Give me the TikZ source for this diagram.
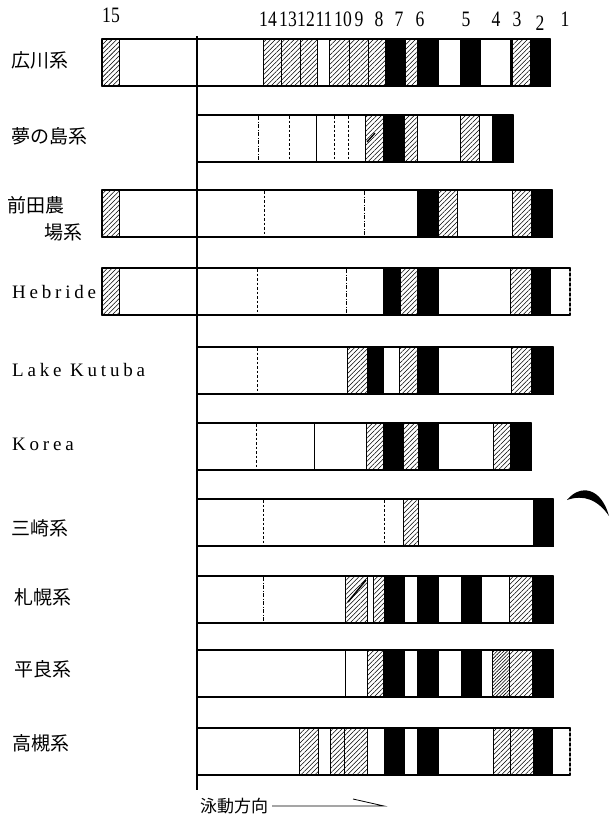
\documentclass[tikz,border=0pt]{standalone}
\usepackage{fontspec}
\setmainfont{Liberation Serif}
\newfontfamily\jpf{Noto Sans CJK JP}
\newfontfamily\latf[LetterSpace=20]{Liberation Serif}
\newfontfamily\numf[FakeStretch=0.8]{Liberation Serif}
\usetikzlibrary{patterns.meta}
\tikzset{
  W/.style={fill=white, draw=black, line width=0.8pt},
  Wn/.style={fill=white},
  H/.style={pattern={Lines[angle=45,distance=3.3pt,line width=0.55pt]}, draw=black, line width=0.8pt},
  Hd/.style={pattern={Lines[angle=45,distance=2.4pt,line width=0.6pt]}, draw=black, line width=0.8pt},
  B/.style={fill=black, draw=black, line width=0.8pt},
  dl/.style={dash pattern=on 2.5pt off 2pt, line width=0.7pt},
  dd/.style={dash pattern=on 4pt off 1.5pt on 1pt off 1.5pt, line width=0.7pt},
  sl/.style={line width=0.8pt},
  frame/.style={line width=1.6pt, line cap=round},
  jl/.style={font=\jpf\fontsize{19}{21}\selectfont, inner sep=0pt, anchor=west},
  ll/.style={font=\latf\fontsize{19}{21}\selectfont, inner sep=0pt, anchor=west},
  nl/.style={font=\numf\fontsize{22}{24}\selectfont, inner sep=0pt},
}
\newcommand\stripe[2]{\foreach \a/\b/\s in {#2}{\path[\s] (\a,#1) rectangle (\b,#1+47);}}
\newcommand\inln[3]{\draw[#3] (#2,#1+1) -- (#2,#1+46);}
\newcommand\frm[4]{%
  \draw[frame] (#2,#1) -- (#3,#1);
  \draw[frame] (#2,#1+47) -- (#3,#1+47);
  \draw[frame] (#2,#1) -- (#2,#1+47);
  \draw[frame,#4] (#3,#1) -- (#3,#1+47);}
\begin{document}
\begin{tikzpicture}[x=1pt,y=-1pt]
\useasboundingbox[fill=white] (0,0) rectangle (615,819);

% row 1 広川系
\stripe{39}{102/119/H,119/263/W,263/281/H,281/300/H,300/317/H,317/329/W,329/349/H,349/368/H,368/385/H,385/405/B,405/417/H,417/438/B,438/460/W,460/480/B,480/510/W,510/512/B,512/530/H,530/550/B}
\frm{39}{102}{550}{}

% row 2 夢の島系
\stripe{115}{197/365/W,365/383/H,383/404/B,404/417/H,417/460/W,460/479/H,479/492/W,492/513/B}
\inln{115}{258}{dd}\inln{115}{289}{dl}\inln{115}{316}{sl}\inln{115}{334}{dl}\inln{115}{348}{dl}
\draw[line width=1.3pt] (367,142) -- (375,133);
\frm{115}{197}{513}{}

% row 3 前田農場系
\stripe{190}{102/119/H,119/417/W,417/438/B,438/457/H,457/512/W,512/531/H,531/552/B}
\inln{190}{264}{dl}\inln{190}{364}{dd}
\frm{190}{102}{552}{}

% row 4 Hebride
\stripe{268}{102/119/H,119/383/W,383/400/B,400/417/H,417/438/B,438/510/W,510/531/H,531/551/B,551/570/Wn}
\inln{268}{257}{dl}\inln{268}{346}{dd}
\frm{268}{102}{570}{dash pattern=on 3pt off 2pt,line width=1.4pt}

% row 5 Lake Kutuba
\stripe{347}{197/347/W,347/367/H,367/383/B,383/399/W,399/417/H,417/438/B,438/511/W,511/531/H,531/553/B}
\inln{347}{257}{dl}
\frm{347}{197}{553}{}

% row 6 Korea
\stripe{423}{197/366/W,366/383/H,383/403/B,403/418/H,418/438/B,438/493/W,493/510/H,510/531/B}
\inln{423}{256}{dl}\inln{423}{314}{sl}
\frm{423}{197}{531}{}

% row 7 三崎系
\stripe{499}{197/403/W,403/418/H,418/533/W,533/553/B}
\inln{499}{263}{dl}\inln{499}{384}{dl}
\frm{499}{197}{553}{}

% row 8 札幌系
\stripe{576}{197/345/W,345/367/H,367/373/W,373/384/H,384/404/B,404/417/W,417/438/B,438/461/W,461/481/B,481/509/W,509/532/H,532/553/B}
\inln{576}{263}{dd}
\draw[line width=1.5pt] (348,602) -- (366,580);
\frm{576}{197}{553}{}

% row 9 平良系
\stripe{650}{197/345/W,345/367/W,367/383/H,383/404/B,404/417/W,417/438/B,438/461/W,461/481/B,481/492/W,492/509/Hd,509/532/H,532/553/B}
\frm{650}{197}{553}{}

% row 10 高槻系
\stripe{728}{197/299/W,299/318/H,318/330/W,330/344/H,344/367/H,367/384/W,384/404/B,404/417/W,417/438/B,438/493/W,493/510/H,510/533/H,533/553/B,553/570/Wn}
\frm{728}{197}{570}{dash pattern=on 3pt off 2pt,line width=1.4pt}

% axis
\coordinate (ax1) at (197,36);
\coordinate (ax2) at (197,790);
\draw[line width=1.5pt] (ax1) -- (ax2);

% row labels
\node[jl] (l1) at (11,60) {広川系};
\node[jl] (l2) at (11,136) {夢の島系};
\node[jl] (l3a) at (7,205) {前田農};
\node[jl] (l3b) at (44,232) {場系};
\node[ll] (l4) at (12,292) {Hebride};
\node[ll] (l5) at (12,370) {Lake Kutuba};
\node[ll] (l6) at (12,444) {Korea};
\node[jl] (l7) at (11,528) {三崎系};
\node[jl] (l8) at (14,597) {札幌系};
\node[jl] (l9) at (14,669) {平良系};
\node[jl] (l10) at (12,743) {高槻系};

% band numbers
\node[nl] (n15) at (111,15) {15};
\node[nl] (n14) at (268,19.5) {14};
\node[nl] (n13) at (288,19.5) {13};
\node[nl] (n12) at (306,19.5) {12};
\node[nl] (n11) at (324,19.5) {11};
\node[nl] (n10) at (343,19.5) {10};
\node[nl] (n9) at (359,19.5) {9};
\node[nl] (n8) at (379,19.5) {8};
\node[nl] (n7) at (399,19.5) {7};
\node[nl] (n6) at (420,19.5) {6};
\node[nl] (n5) at (466,19.5) {5};
\node[nl] (n4) at (496,19.5) {4};
\node[nl] (n3) at (517,19.5) {3};
\node[nl] (n2) at (540,23) {2};
\node[nl] (n1) at (565,19.5) {1};

% crescent
\fill (567,500) .. controls (580,484) and (601,487) .. (609,516)
      .. controls (598,500) and (584,494) .. (567,500) -- cycle;

% caption
\node[font=\jpf\fontsize{17}{19}\selectfont, inner sep=0pt] (cap) at (234,806) {泳動方向};
\coordinate (a1) at (272,806);
\coordinate (a2) at (384,806);
\draw[line width=0.8pt] (a1) -- (a2) -- ++(-31,-7);
\end{tikzpicture}
\end{document}
